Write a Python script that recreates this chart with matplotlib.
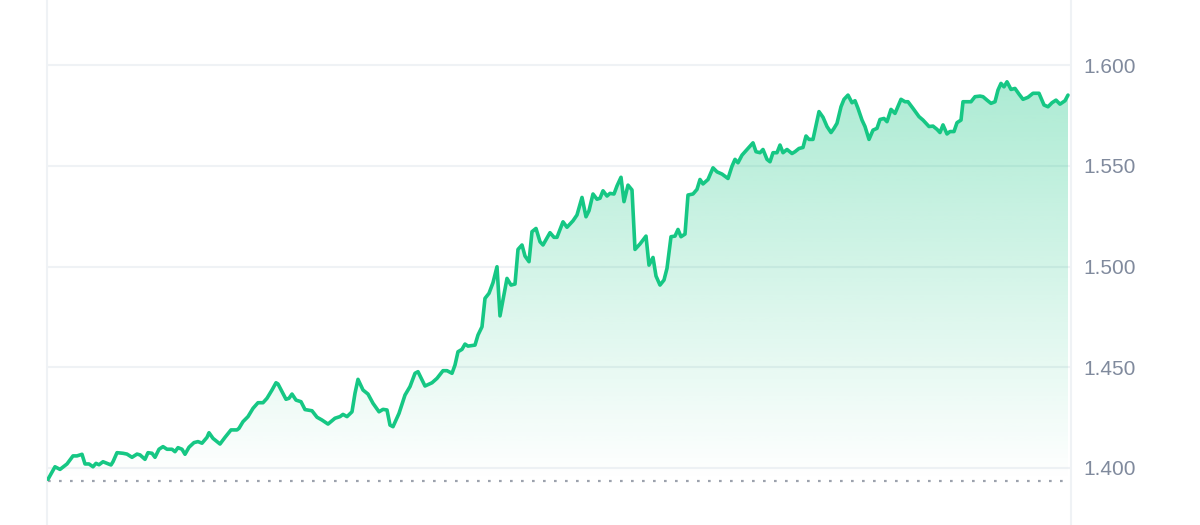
import numpy as np
import matplotlib
matplotlib.use("Agg")
import matplotlib.pyplot as plt
from matplotlib.patches import Polygon

# ---- data (time step index, price) ----
t = [0, 7, 12, 19, 25, 29, 34, 37, 41, 45, 48, 51, 55, 59, 63, 65, 69, 75, 79, 84,
     89, 92, 97, 100, 104, 107, 111, 115, 119, 124, 127, 130, 134, 137, 141, 146, 150, 154, 159, 161,
     165, 172, 177, 183, 189, 191, 195, 200, 205, 210, 215, 219, 224, 228, 230, 234, 238, 241, 244, 248,
     253, 257, 264, 269, 274, 280, 287, 292, 295, 299, 304, 307, 310, 315, 320, 325, 331, 335, 339, 342,
     345, 351, 357, 362, 367, 370, 377, 384, 389, 395, 399, 404, 407, 410, 414, 417, 420, 427, 430, 434,
     437, 441, 445, 449, 452, 459, 463, 467, 470, 474, 477, 481, 484, 488, 492, 495, 502, 506, 509, 515,
     519, 525, 529, 534, 538, 541, 545, 549, 552, 555, 559, 562, 566, 569, 573, 576, 580, 584, 587, 592,
     598, 601, 605, 608, 612, 616, 619, 623, 627, 630, 633, 637, 640, 645, 649, 652, 655, 660, 665, 669,
     674, 680, 684, 687, 690, 694, 699, 705, 708, 712, 715, 719, 722, 725, 729, 732, 735, 739, 744, 747,
     751, 755, 758, 761, 765, 771, 775, 779, 783, 786, 789, 793, 796, 800, 804, 807, 810, 814, 817, 821,
     825, 829, 832, 836, 839, 843, 847, 853, 857, 860, 865, 871, 875, 881, 885, 889, 892, 895, 899, 902,
     906, 909, 913, 915, 919, 923, 927, 932, 935, 939, 943, 947, 950, 953, 956, 959, 963, 967, 971, 975,
     980, 985, 991, 996, 1000, 1004, 1008, 1012, 1017, 1020]

price = [1.3944, 1.4006, 1.3993, 1.4020, 1.4060, 1.4060, 1.4068, 1.4020, 1.4020, 1.4006,
         1.4023, 1.4016, 1.4031, 1.4023, 1.4015, 1.4031, 1.4076, 1.4073, 1.4069, 1.4053,
         1.4069, 1.4065, 1.4043, 1.4076, 1.4073, 1.4053, 1.4093, 1.4106, 1.4093, 1.4093,
         1.4081, 1.4101, 1.4093, 1.4068, 1.4103, 1.4126, 1.4131, 1.4123, 1.4152, 1.4175,
         1.4147, 1.4119, 1.4152, 1.4189, 1.4189, 1.4197, 1.4230, 1.4255, 1.4296, 1.4324,
         1.4324, 1.4346, 1.4387, 1.4423, 1.4417, 1.4379, 1.4341, 1.4346, 1.4367, 1.4337,
         1.4329, 1.4290, 1.4284, 1.4252, 1.4238, 1.4218, 1.4247, 1.4255, 1.4266, 1.4255,
         1.4279, 1.4371, 1.4440, 1.4387, 1.4367, 1.4321, 1.4279, 1.4291, 1.4288, 1.4213,
         1.4205, 1.4271, 1.4362, 1.4404, 1.4470, 1.4478, 1.4407, 1.4423, 1.4445, 1.4483,
         1.4483, 1.4470, 1.4511, 1.4577, 1.4589, 1.4615, 1.4605, 1.4610, 1.4660, 1.4701,
         1.4842, 1.4867, 1.4920, 1.4999, 1.4755, 1.4941, 1.4908, 1.4913, 1.5085, 1.5107,
         1.5052, 1.5024, 1.5173, 1.5189, 1.5123, 1.5107, 1.5168, 1.5145, 1.5145, 1.5222,
         1.5195, 1.5227, 1.5256, 1.5343, 1.5247, 1.5277, 1.5360, 1.5334, 1.5339, 1.5376,
         1.5350, 1.5363, 1.5360, 1.5400, 1.5443, 1.5322, 1.5404, 1.5380, 1.5085, 1.5112,
         1.5151, 1.5007, 1.5045, 1.4953, 1.4908, 1.4933, 1.4991, 1.5148, 1.5151, 1.5184,
         1.5148, 1.5161, 1.5355, 1.5360, 1.5383, 1.5432, 1.5410, 1.5432, 1.5490, 1.5470,
         1.5459, 1.5437, 1.5498, 1.5532, 1.5515, 1.5553, 1.5581, 1.5614, 1.5570, 1.5565,
         1.5581, 1.5532, 1.5520, 1.5565, 1.5565, 1.5603, 1.5565, 1.5581, 1.5561, 1.5570,
         1.5586, 1.5591, 1.5648, 1.5631, 1.5631, 1.5769, 1.5741, 1.5695, 1.5665, 1.5686,
         1.5711, 1.5793, 1.5830, 1.5851, 1.5813, 1.5823, 1.5785, 1.5727, 1.5695, 1.5631,
         1.5677, 1.5686, 1.5730, 1.5735, 1.5719, 1.5780, 1.5760, 1.5830, 1.5818, 1.5818,
         1.5785, 1.5744, 1.5727, 1.5695, 1.5697, 1.5681, 1.5665, 1.5703, 1.5658, 1.5670,
         1.5670, 1.5714, 1.5727, 1.5818, 1.5818, 1.5818, 1.5843, 1.5846, 1.5843, 1.5826,
         1.5810, 1.5818, 1.5876, 1.5909, 1.5892, 1.5917, 1.5879, 1.5884, 1.5856, 1.5830,
         1.5840, 1.5860, 1.5860, 1.5802, 1.5793, 1.5813, 1.5826, 1.5806, 1.5823, 1.5851]

yticks = [1.400, 1.450, 1.500, 1.550, 1.600]
ytick_labels = ["1.400", "1.450", "1.500", "1.550", "1.600"]
reference_price = 1.3935

# ---- figure ----
W, H, DPI = 1200, 525, 100
fig = plt.figure(figsize=(W / DPI, H / DPI), dpi=DPI)
fig.patch.set_facecolor("white")
ax = fig.add_axes([47 / W, 0.0, (1071 - 47) / W, 1.0])
ax.set_facecolor("white")

x_arr = np.array(t, dtype=float)
y_arr = np.array(price)

ax.set_xlim(-1, 1023)
ax.set_ylim(1.3717, 1.6323)

green = "#16c784"
grid_c = "#eff2f5"

# gridlines
for yv in yticks:
    ax.axhline(yv, color=grid_c, lw=1.5, zorder=0)

# gradient fill under the line
y_bottom = 1.3717
y_top_grad = max(price)
grad_n = 256
alphas = np.linspace(0.36, 0.0, grad_n)
rgb = np.array(matplotlib.colors.to_rgb(green))
img = np.zeros((grad_n, 1, 4))
img[:, 0, :3] = rgb
img[:, 0, 3] = alphas
im = ax.imshow(img, aspect="auto", extent=[x_arr[0], x_arr[-1], 1.3935, y_top_grad + 0.003],
               origin="upper", zorder=1, interpolation="bilinear")
verts = np.vstack([np.column_stack([x_arr, y_arr]),
                   [[x_arr[-1], y_bottom], [x_arr[0], y_bottom]]])
poly = Polygon(verts, closed=True, facecolor="none", edgecolor="none")
ax.add_patch(poly)
im.set_clip_path(poly)

# reference dotted line
ax.hlines(reference_price, x_arr[0], x_arr[-1], colors="#9ca2ad", lw=1.6,
          linestyles=(0, (1.2, 3.75)), zorder=2)

# price line
ax.plot(x_arr, y_arr, color=green, lw=2.6, solid_joinstyle="round",
        solid_capstyle="round", zorder=3)

# spines
for s in ["top", "bottom"]:
    ax.spines[s].set_visible(False)
for s in ["left", "right"]:
    ax.spines[s].set_color(grid_c)
    ax.spines[s].set_linewidth(1.5)

ax.set_xticks([])
ax.yaxis.tick_right()
ax.set_yticks(yticks)
ax.set_yticklabels(ytick_labels)
ax.tick_params(axis="y", length=0, pad=9, labelsize=15, labelcolor="#808a9d")
for lab in ax.get_yticklabels():
    lab.set_fontfamily("Liberation Sans")

fig.savefig("out.png", dpi=DPI, facecolor="white")
